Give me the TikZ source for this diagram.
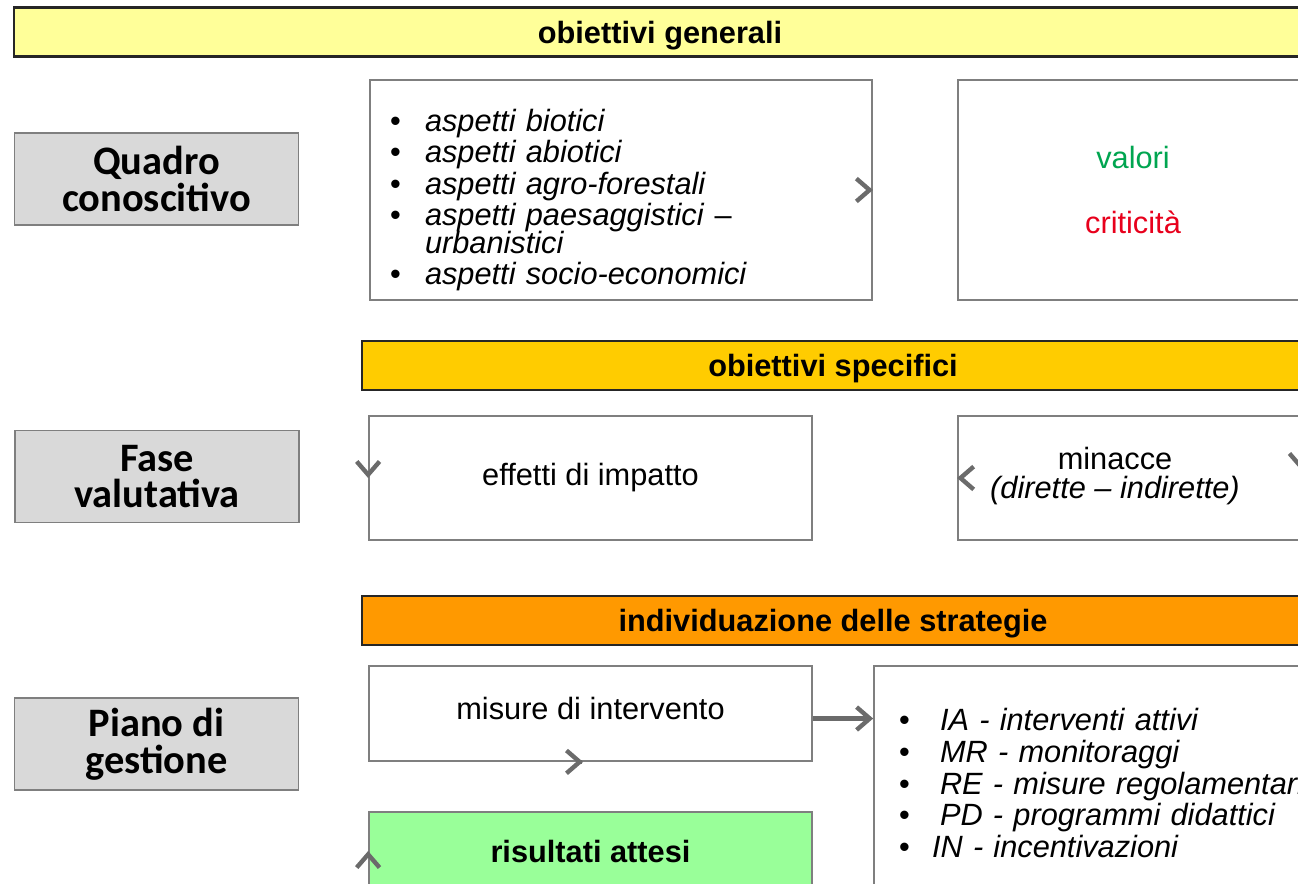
\documentclass[tikz,border=0pt]{standalone}
\usepackage{fontspec}
\setmainfont{Liberation Sans}
\newfontfamily\calibri{Carlito}
\usetikzlibrary{arrows.meta,calc}

\definecolor{giallochiaro}{HTML}{FFFF99}
\definecolor{giallo}{HTML}{FFCC00}
\definecolor{arancio}{HTML}{FF9900}
\definecolor{verdechiaro}{HTML}{99FF99}
\definecolor{grigiochiaro}{HTML}{D9D9D9}
\definecolor{bordo}{HTML}{7F7F7F}
\definecolor{grigiofreccia}{HTML}{6B6B6B}
\definecolor{verdetesto}{HTML}{00A550}
\definecolor{rossotesto}{HTML}{E8001C}

% voce di elenco puntato
\newcommand\voce[2][0.7cm]{\makebox[#1][l]{\textbullet}\mbox{\textit{#2}}}

\begin{document}
\begin{tikzpicture}[
    fascia/.style={draw=black!85, line width=1.4pt, minimum height=0.98cm, text depth=0pt,
        font=\bfseries\fontsize{17.5}{20}\selectfont},
    fase/.style={draw=bordo, line width=0.8pt, fill=grigiochiaro, minimum width=5.68cm,
        minimum height=1.84cm, align=center, font=\calibri\bfseries\fontsize{23}{21}\selectfont},
    riquadro/.style={draw=bordo, line width=1pt, fill=white, font=\fontsize{17.5}{18}\selectfont},
    testo/.style={inner sep=0pt, font=\fontsize{17.5}{18}\selectfont},
    freccia/.style={draw=grigiofreccia, line width=2.5pt, -{Straight Barb[length=7.5pt,width=13pt]}}
]
    \useasboundingbox (0,0) rectangle (25.96,-17.66);
    \clip (0,0) rectangle (25.96,-17.66);

    % Fasce colorate
    \node[fascia, fill=giallochiaro, minimum width=25.84cm] (generali) at (13.2,-0.64) {obiettivi generali};
    \node[fascia, fill=giallo, minimum width=18.84cm] (specifici) at (16.66,-7.31) {obiettivi specifici};
    \node[fascia, fill=arancio, minimum width=18.84cm] (strategie) at (16.66,-12.41) {individuazione delle strategie};

    % Fasi (colonna a sinistra)
    \node[fase] (quadro) at (3.13,-3.58) {Quadro\\conoscitivo};
    \node[fase] (valutativa) at (3.14,-9.53) {Fase\\valutativa};
    \node[fase] (piano) at (3.13,-14.88) {Piano di\\gestione};

    % Quadro conoscitivo
    \node[riquadro, minimum width=10.04cm, minimum height=4.4cm] (aspetti) at (12.42,-3.8) {};
    \node[testo, text width=9.24cm, align=left] (aspettiTesto) at (12.42,-4.0)
        {\voce{aspetti biotici}\\
         \voce{aspetti abiotici}\\
         \voce{aspetti agro-forestali}\\
         \voce{aspetti paesaggistici} --\\[-2.5pt]
         \hspace*{0.7cm}\textit{urbanistici}\\
         \voce{aspetti socio-economici}};
    \node[riquadro, minimum width=7cm, minimum height=4.4cm, align=center] (valori) at (22.66,-3.8)
        {\textcolor{verdetesto}{valori}\\[18.8pt]\textcolor{rossotesto}{criticità}};

    % Fase valutativa
    \node[riquadro, minimum width=8.86cm, minimum height=2.48cm] (effetti) at (11.81,-9.56) {effetti di impatto};
    \node[riquadro, minimum width=6.84cm, minimum height=2.48cm] (minacce) at (22.58,-9.56) {};
    \node[testo, font=\fontsize{17.5}{17}\selectfont, align=center] (minacceTesto) at (22.3,-9.52)
        {minacce\\\textit{(dirette -- indirette)}};

    % Piano di gestione
    \node[riquadro, minimum width=8.86cm, minimum height=1.9cm, text depth=6pt] (misure) at (11.81,-14.27) {misure di intervento};
    \node[riquadro, minimum width=8.72cm, minimum height=4.68cm, inner xsep=0.5cm,
        text width=7.72cm, align=left] (elenco) at (21.84,-15.66)
        {\voce[0.82cm]{IA - interventi attivi}\\
         \voce[0.82cm]{MR - monitoraggi}\\
         \voce[0.82cm]{RE - misure regolamentari}\\
         \voce[0.82cm]{PD - programmi didattici}\\
         \voce[0.66cm]{IN - incentivazioni}};
    \node[riquadro, fill=verdechiaro, minimum width=8.86cm, minimum height=1.56cm,
        font=\bfseries\fontsize{17.5}{18}\selectfont] (risultati) at (11.81,-17.02) {risultati attesi};

    % Frecce
    \coordinate (uscita) at ($(misure.east)+(0,-0.1)$);
    \draw[freccia] ($(aspetti.east)+(-1pt,0)$) -- (aspetti.east);
    \draw[freccia] ($(effetti.west)+(0,1pt)$) -- (effetti.west);
    \draw[freccia] ($(minacce.west)+(1pt,0)$) -- (minacce.west);
    \draw[freccia] ($(minacce.east)+(0,0.17)$) -- ($(minacce.east)+(0,0.16)$);
    \draw[freccia] (uscita) -- (uscita -| elenco.west);
    \draw[freccia] ($(misure.south)+(-0.17,0)$) -- ($(misure.south)+(-0.15,0)$);
    \draw[freccia] ($(risultati.west)+(0,-1pt)$) -- (risultati.west);
\end{tikzpicture}
\end{document}
